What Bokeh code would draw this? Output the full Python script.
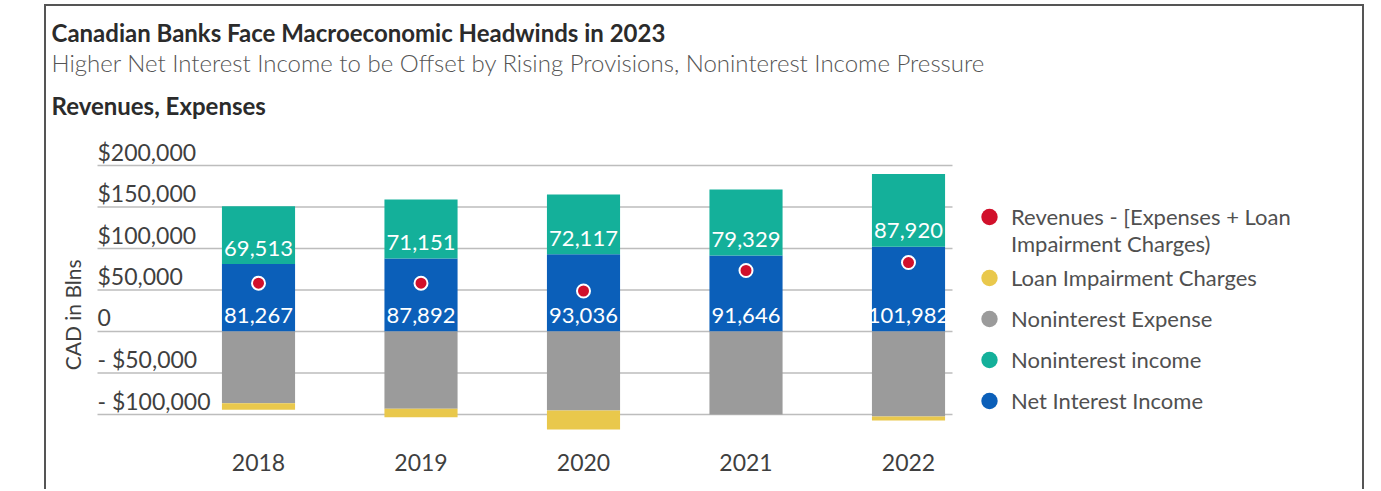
import math
from bokeh.plotting import figure
from bokeh.models import ColumnDataSource, Range1d, FixedTicker, Title, Legend, LegendItem
from bokeh.core.properties import value
from bokeh.embed import file_html
from bokeh.resources import INLINE

# ---------------- data ----------------
years = ["2018", "2019", "2020", "2021", "2022"]
net_interest_income = [81267, 87892, 93036, 91646, 101982]
noninterest_income = [69513, 71151, 72117, 79329, 87920]
noninterest_expense = [86400, 93100, 95200, 100000, 102400]
loan_impairment = [8000, 10100, 22900, 0, 4800]
net_result = [58200, 58200, 48800, 73500, 83100]
y_ticks = [-100000, -50000, 0, 50000, 100000, 150000, 200000]
y_tick_labels = ["- $100,000", "- $50,000", "0", "$50,000", "$100,000", "$150,000", "$200,000"]
y_axis_title = "CAD in Blns"

legend_labels = [
    "Revenues - [Expenses + Loan\nImpairment Charges)",
    "Loan Impairment Charges",
    "Noninterest Expense",
    "Noninterest income",
    "Net Interest Income",
]

# ---------------- styling ----------------
FONT = "Lato"
C_BLUE = "#0b5fb9"
C_TEAL = "#14b09a"
C_GRAY = "#9b9b9b"
C_YELLOW = "#e9c84c"
C_RED = "#d1102b"
TXT = "#3f3f3f"

PX = 162.5                      # pixels per category step
xs = list(range(1, len(years) + 1))
x_grid_start = 0.0092           # where grid lines / tick labels begin
x_start = x_grid_start - 51 / PX
x_grid_end = x_grid_start + 855 / PX
x_end = x_start + 1320 / PX

src = ColumnDataSource(dict(
    x=xs,
    nii=net_interest_income,
    nii_top=[a + b for a, b in zip(net_interest_income, noninterest_income)],
    exp_bot=[-e for e in noninterest_expense],
    lic_bot=[-e - l for e, l in zip(noninterest_expense, loan_impairment)],
    zero=[0] * len(xs),
    net=net_result,
    nii_lbl=[f"{v:,}" for v in net_interest_income],
    nonii_lbl=[f"{v:,}" for v in noninterest_income],
))

p = figure(
    width=1320, height=485,
    x_range=Range1d(x_start, x_end),
    y_range=Range1d(-131325, 236145),
    output_backend="svg", toolbar_location=None,
    min_border_left=0, min_border_right=0, min_border_top=129, min_border_bottom=51,
    title="Canadian Banks Face Macroeconomic Headwinds in 2023",
)
p.styles = {
    "margin-left": "44px", "margin-top": "4px",
    "border-top": "2px solid #555555",
    "border-left": "2px solid #555555",
    "border-right": "2px solid #555555",
}
p.outline_line_color = None

# titles (first added = closest to the plot; p.title is the farthest)
rev = Title(text="Revenues, Expenses", text_font=FONT, text_font_size="24px",
            text_font_style="bold", text_color="#2b2b2b", align="left", offset=5, standoff=31)
p.add_layout(rev, "above")
sub = Title(text="Higher Net Interest Income to be Offset  by Rising Provisions, Noninterest Income Pressure",
            text_font="'Lato Light', Lato", text_font_size="24px", text_font_style="normal",
            text_color="#555555", align="left", offset=5, standoff=-7)
p.add_layout(sub, "above")
p.title.text_font = FONT
p.title.text_font_size = "24px"
p.title.text_font_style = "bold"
p.title.text_color = "#2b2b2b"
p.title.align = "left"
p.title.offset = 5
p.title.standoff = 5

# axes
p.xgrid.visible = False
p.ygrid.visible = False
p.yaxis.visible = False

p.xaxis.ticker = FixedTicker(ticks=xs)
p.xaxis.major_label_overrides = {x: y for x, y in zip(xs, years)}
p.xaxis.major_label_text_font = FONT
p.xaxis.major_label_text_font_size = "23px"
p.xaxis.major_label_text_color = TXT
p.xaxis.major_label_standoff = 7
p.xaxis.major_tick_line_color = None
p.xaxis.minor_tick_line_color = None
p.xaxis.axis_line_color = None

# horizontal grid lines (limited to the bar area)
p.segment(x0=[x_grid_start] * len(y_ticks), x1=[x_grid_end] * len(y_ticks), y0=y_ticks, y1=y_ticks,
          line_color="#bdbdbd", line_width=1.5)

# bars
W = 0.45
p.vbar(x="x", bottom="zero", top="nii", width=W, source=src, fill_color=C_BLUE, line_color=None)
p.vbar(x="x", bottom="nii", top="nii_top", width=W, source=src, fill_color=C_TEAL, line_color=None)
p.vbar(x="x", bottom="exp_bot", top="zero", width=W, source=src, fill_color=C_GRAY, line_color=None)
p.vbar(x="x", bottom="lic_bot", top="exp_bot", width=W, source=src, fill_color=C_YELLOW, line_color=None)

# bar value labels
p.text(x="x", y="nii", text="nonii_lbl", source=src, text_align="center", text_baseline="middle",
       y_offset=-16, text_font=value(FONT), text_font_size="22px", text_color="white")
p.text(x="x", y="zero", text="nii_lbl", source=src, text_align="center", text_baseline="middle",
       y_offset=-16, text_font=value(FONT), text_font_size="22px", text_color="white")

# net result dots
p.scatter(x="x", y="net", source=src, size=13, fill_color=C_RED, line_color="white", line_width=2)

# y tick labels (left aligned, sitting above each grid line)
p.text(x=[x_grid_start] * len(y_ticks), y=y_ticks, text=y_tick_labels, text_align="left",
       text_baseline="middle", y_offset=-14, text_font=value(FONT), text_font_size="23px",
       text_color=TXT)

# y axis title (rotated)
p.text(x=[x_grid_start - 25 / PX], y=[20000], text=[y_axis_title], angle=math.pi / 2,
       text_align="center", text_baseline="middle", text_font=value(FONT),
       text_font_size="21px", text_color=TXT)

# legend (circle swatches from off-range dummy points)
leg_colors = [C_RED, C_YELLOW, C_GRAY, C_TEAL, C_BLUE]
leg_items = []
for i, (lab, col) in enumerate(zip(legend_labels, leg_colors)):
    r = p.scatter(x=[-10], y=[0], size=17, fill_color=col, line_color=None)
    # a leading blank line keeps the swatch level with the first line of a two-line label
    shown = "\n" + lab if "\n" in lab else lab
    leg_items.append(LegendItem(label=shown, renderers=[r]))

legend = Legend(items=leg_items, location=(921, 19), orientation="vertical",
                border_line_color=None, background_fill_alpha=0,
                label_text_font=FONT, label_text_font_size="22px", label_text_color="#505050",
                label_text_line_height=1.27,
                glyph_width=44, glyph_height=41, label_standoff=-5, spacing=0,
                padding=0, margin=0)
p.add_layout(legend)

open("out.html", "w").write(file_html(p, INLINE))
